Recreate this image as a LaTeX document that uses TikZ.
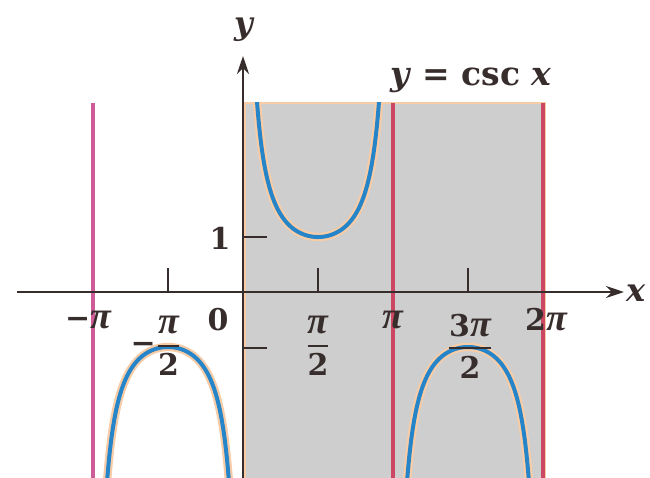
\documentclass[tikz,border=0pt]{standalone}
\usepackage{fontspec}
\usepackage{amsmath}
\setmainfont{DejaVu Serif}
\newfontfamily\pifont{Liberation Serif}
\usetikzlibrary{arrows.meta}
\definecolor{shadegray}{RGB}{206,206,206}
\definecolor{peach}{RGB}{247,204,166}
\definecolor{cblue}{RGB}{38,132,200}
\definecolor{asymred}{RGB}{204,72,98}
\definecolor{asympink}{RGB}{206,92,150}
\definecolor{axiscol}{RGB}{55,45,45}
\newcommand\pib{{\pifont\fontsize{19}{22}\selectfont\bfseries\itshape π}}
\newcommand\lfrac[2]{$\genfrac{}{}{1.1pt}{0}{\mbox{#1}}{\mbox{#2}}$}
\begin{document}
\begin{tikzpicture}[x={(0.5pt,0)},y={(0,-0.5pt)},
  lbl/.style={font=\fontsize{15}{18}\selectfont\bfseries, inner sep=0pt, text=axiscol},
  axisline/.style={draw=axiscol, line width=1.4pt},
  tickline/.style={draw=axiscol, line width=1.3pt},
  asymline/.style={line width=1.6pt},
  halo/.style={draw=peach, line width=4.2pt},
  curve/.style={draw=cblue, line width=2pt}]
\useasboundingbox (0,0) rectangle (650,478);
% shaded period
\fill[shadegray] (245,103) rectangle (545,478);
\draw[peach, line width=1pt] (245,478) -- (245,103) -- (545,103) -- (545,478);
% asymptotes
\draw[asymline, draw=asympink] (93,103) -- (93,478);
\draw[asymline, draw=asymred] (393,103) -- (393,478);
\draw[asymline, draw=asymred] (543,103) -- (543,478);
% axes
\coordinate (xs) at (17,292);
\coordinate (xe) at (624,292);
\coordinate (ys) at (243,478);
\coordinate (ye) at (243,56);
\draw[axisline, -{Stealth[length=9pt,width=6pt]}] (xs) -- (xe);
\draw[axisline, -{Stealth[length=9pt,width=6pt]}] (ys) -- (ye);
\node[lbl, font=\fontsize{16}{19}\selectfont\bfseries\itshape] (xl) at (636,293) {x};
\node[lbl, font=\fontsize{16}{19}\selectfont\bfseries\itshape] (yl) at (244,30) {y};
% ticks
\draw[tickline] (168,292) -- (168,268);
\draw[tickline] (318,292) -- (318,268);
\draw[tickline] (468,292) -- (468,268);
\draw[tickline] (243,237) -- (267,237);
\draw[tickline] (243,348) -- (267,348);
% curves
\begin{scope}[shift={(243,292)}, x={(23.873pt,0)}, y={(0,27.5pt)}]
  \clip (-3.1416,-3.38) rectangle (6.2832,3.44);
  \foreach \a/\b in {0.27/2.8716, -2.8716/-0.27, 3.4116/6.0132} {
    \draw[halo] plot[domain=\a:\b, samples=90, smooth] (\x,{1/sin(\x r)});
    \draw[curve] plot[domain=\a:\b, samples=90, smooth] (\x,{1/sin(\x r)});
  }
\end{scope}
% labels
\node[lbl] (one) at (220,238) {1};
\node[lbl] (mpi) at (88,320) {−\pib};
\node[lbl] (zero) at (218,320) {0};
\node[lbl] (mhalf) at (156,346) {−\lfrac{\pib}{\textbf{2}}};
\node[lbl] (half) at (318,346) {\lfrac{\pib}{\textbf{2}}};
\node[lbl] (pil) at (393,320) {\pib};
\node[lbl] (thalf) at (470,346) {\lfrac{\textbf{3}\pib}{\textbf{2}}};
\node[lbl] (tpi) at (546,320) {\textbf{2}\pib};
\node[lbl, anchor=base, font=\fontsize{16.5}{19}\selectfont\bfseries] (title) at (471,85) {\textit{y} = csc \textit{x}};
\end{tikzpicture}
\end{document}
